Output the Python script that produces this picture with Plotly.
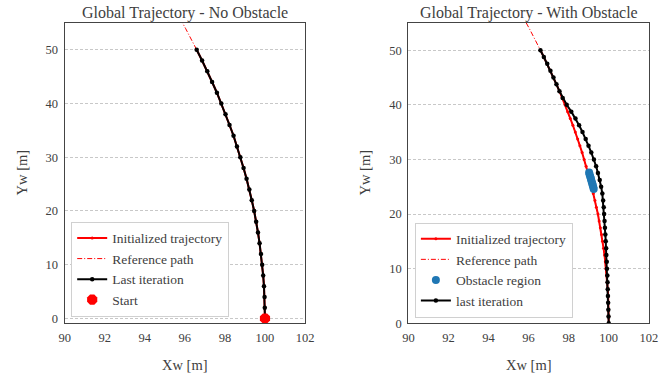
import plotly.graph_objects as go

# ---------------- data ----------------
# Left panel (no obstacle), samples every ~2 m
y_left = [0, 2, 4, 6, 8, 10, 12, 14, 16, 18, 20, 22, 24, 26, 28, 30, 32, 34, 36, 38, 40, 42, 44, 46, 48, 50]
x_init_left = [100.00, 99.99, 99.98, 99.95, 99.91, 99.86, 99.80, 99.73, 99.65, 99.56, 99.46, 99.34, 99.22,
               99.08, 98.93, 98.77, 98.60, 98.43, 98.23, 98.03, 97.82, 97.60, 97.36, 97.12, 96.86, 96.59]
x_last_left = [100.00, 99.99, 99.98, 99.95, 99.91, 99.86, 99.80, 99.73, 99.65, 99.56, 99.46, 99.34, 99.22,
               99.08, 98.93, 98.77, 98.60, 98.43, 98.23, 98.03, 97.82, 97.60, 97.36, 97.12, 96.86, 96.59]

# Reference path (extends past the top of the plots)
y_ref = [0, 2, 4, 6, 8, 10, 12, 14, 16, 18, 20, 22, 24, 26, 28, 30, 32, 34, 36, 38, 40, 42, 44, 46, 48, 50,
         52, 54, 56, 58]
x_ref = [100.00, 99.99, 99.98, 99.95, 99.91, 99.86, 99.80, 99.73, 99.65, 99.56, 99.46, 99.34, 99.22,
         99.08, 98.93, 98.77, 98.60, 98.43, 98.23, 98.03, 97.82, 97.60, 97.36, 97.12, 96.86, 96.59,
         96.32, 96.03, 95.73, 95.42]

start_x = [100.0]
start_y = [0.0]

# Right panel (with obstacle), samples every ~1.25 m
y_right = [0, 1.25, 2.5, 3.75, 5, 6.25, 7.5, 8.75, 10, 11.25, 12.5, 13.75, 15, 16.25, 17.5, 18.75, 20,
           21.25, 22.5, 23.75, 25, 26.25, 27.5, 28.75, 30, 31.25, 32.5, 33.75, 35, 36.25, 37.5, 38.75,
           40, 41.25, 42.5, 43.75, 45, 46.25, 47.5, 48.75, 50]
x_init_right = [100.00, 100.00, 99.99, 99.98, 99.97, 99.95, 99.92, 99.90, 99.86, 99.83, 99.79, 99.74,
                99.69, 99.64, 99.58, 99.52, 99.46, 99.38, 99.31, 99.23, 99.15, 99.06, 98.97, 98.87,
                98.77, 98.67, 98.56, 98.45, 98.33, 98.21, 98.08, 97.95, 97.82, 97.68, 97.54, 97.39,
                97.24, 97.09, 96.93, 96.76, 96.59]
x_last_right = [100.00, 99.99, 99.98, 99.97, 99.96, 99.95, 99.94, 99.93, 99.91, 99.90, 99.88, 99.87,
                99.85, 99.83, 99.81, 99.79, 99.77, 99.75, 99.72, 99.68, 99.62, 99.55, 99.46, 99.37,
                99.26, 99.13, 98.99, 98.85, 98.69, 98.52, 98.34, 98.13, 97.90, 97.70, 97.54, 97.39,
                97.24, 97.09, 96.93, 96.76, 96.59]

obst_x = [99.02, 99.04, 99.07, 99.10, 99.12, 99.15, 99.18, 99.20, 99.23, 99.25]
obst_y = [27.6, 27.27, 26.93, 26.6, 26.27, 25.93, 25.6, 25.27, 24.93, 24.6]

x_ticks = [90, 92, 94, 96, 98, 100, 102]
y_ticks = [0, 10, 20, 30, 40, 50]

# ---------------- figure ----------------
RED = "#ff0000"
BLACK = "#000000"
BLUE = "#1f77b4"
TXT = "#404040"
FONT = "Liberation Serif"

fig = go.Figure()

# Left panel
fig.add_trace(go.Scatter(x=x_init_left, y=y_left, mode="lines+markers", name="Initialized trajectory",
                         line=dict(color=RED, width=2), marker=dict(color=RED, size=3),
                         xaxis="x", yaxis="y", legend="legend"))
fig.add_trace(go.Scatter(x=x_ref, y=y_ref, mode="lines", name="Reference path",
                         line=dict(color=RED, width=1, dash="5px,2px,1px,2px"),
                         xaxis="x", yaxis="y", legend="legend"))
fig.add_trace(go.Scatter(x=x_last_left, y=y_left, mode="lines+markers", name="Last iteration",
                         line=dict(color=BLACK, width=2), marker=dict(color=BLACK, size=4.5),
                         xaxis="x", yaxis="y", legend="legend"))
fig.add_trace(go.Scatter(x=start_x, y=start_y, mode="markers", name="Start",
                         marker=dict(color=RED, size=11, symbol="octagon"), cliponaxis=False,
                         xaxis="x", yaxis="y", legend="legend"))

# Right panel
fig.add_trace(go.Scatter(x=x_init_right, y=y_right, mode="lines+markers", name="Initialized trajectory",
                         line=dict(color=RED, width=2), marker=dict(color=RED, size=3),
                         xaxis="x2", yaxis="y2", legend="legend2"))
fig.add_trace(go.Scatter(x=x_ref, y=y_ref, mode="lines", name="Reference path",
                         line=dict(color=RED, width=1, dash="5px,2px,1px,2px"),
                         xaxis="x2", yaxis="y2", legend="legend2"))
fig.add_trace(go.Scatter(x=obst_x, y=obst_y, mode="markers", name="Obstacle region",
                         marker=dict(color=BLUE, size=8),
                         xaxis="x2", yaxis="y2", legend="legend2"))
fig.add_trace(go.Scatter(x=x_last_right, y=y_right, mode="lines+markers", name="last iteration",
                         line=dict(color=BLACK, width=2), marker=dict(color=BLACK, size=4.5),
                         xaxis="x2", yaxis="y2", legend="legend2"))

tickfont = dict(family=FONT, size=12.5, color=TXT)
axis_common = dict(showline=True, mirror=True, linecolor="#444444", linewidth=1.25,
                   ticks="outside", ticklen=3, tickcolor="rgba(0,0,0,0)",
                   tickfont=tickfont, zeroline=False)

x_common = dict(axis_common, range=[90, 102], tickvals=x_ticks, showgrid=False)
y_common = dict(axis_common, tickvals=y_ticks, showgrid=True, gridcolor="#c8c8c8",
                gridwidth=0.8, griddash="3px,2px")

legend_common = dict(bgcolor="white", bordercolor="#d0d0d0", borderwidth=1,
                     font=dict(family=FONT, size=13.5, color=TXT),
                     xanchor="left", yanchor="bottom", tracegroupgap=0, itemwidth=30)


def ann(text, x, y, size, angle=0):
    return dict(text=text, x=x / 663, y=1 - y / 385, xref="paper", yref="paper", textangle=angle,
                showarrow=False, font=dict(family=FONT, size=size, color=TXT),
                xanchor="center", yanchor="middle")


fig.update_layout(
    width=663, height=385,
    margin=dict(l=0, r=0, t=0, b=0),
    paper_bgcolor="white", plot_bgcolor="white",
    font=dict(family=FONT, color=TXT),
    xaxis=dict(x_common, domain=[0.0905, 0.4615], anchor="y"),
    yaxis=dict(y_common, domain=[0.1447, 0.9395], range=[-0.9, 55], anchor="x"),
    xaxis2=dict(x_common, domain=[0.621, 0.992], anchor="y2"),
    yaxis2=dict(y_common, domain=[0.1447, 0.9395], range=[0, 55], anchor="x2"),
    legend=dict(legend_common, x=0.1006, y=0.162),
    legend2=dict(legend_common, x=0.631, y=0.160),
    showlegend=True,
    annotations=[
        ann("Global Trajectory - No Obstacle", 183, 13, 16),
        ann("Global Trajectory - With Obstacle", 535, 13, 16),
        ann("Xw [m]", 183, 372, 14.5),
        ann("Xw [m]", 535, 372, 14.5),
        ann("Yw [m]", 16, 176, 14.5, -90),
        ann("Yw [m]", 367, 176, 14.5, -90),
    ],
)

fig.write_html("out.html")
